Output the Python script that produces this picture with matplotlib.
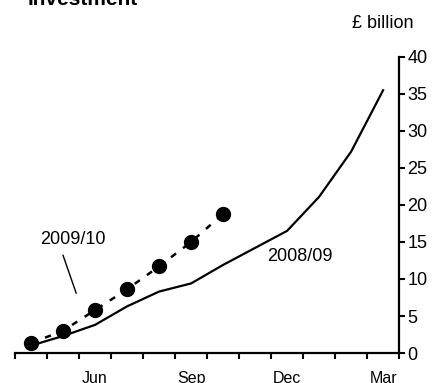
import matplotlib
matplotlib.use("Agg")
import matplotlib.pyplot as plt
import numpy as np

plt.rcParams['font.family'] = ['Liberation Sans', 'DejaVu Sans']

months = ["Apr", "May", "Jun", "Jul", "Aug", "Sep", "Oct", "Nov", "Dec", "Jan", "Feb", "Mar"]
shown_months = ["Jun", "Sep", "Dec", "Mar"]
y0809 = [1.0, 2.3, 3.8, 6.3, 8.3, 9.4, 11.9, 14.2, 16.5, 21.1, 27.2, 35.5]
y0910 = [1.35, 3.0, 5.8, 8.6, 11.7, 15.0, 18.8]

fig = plt.figure(figsize=(4.34, 3.83), dpi=100)
ax = fig.add_axes([0.0346, 0.0783, 0.885, 0.773])

x = np.arange(len(months)) + 0.5
ax.plot(x, y0809, color="black", lw=1.6)
ax.plot(x[:len(y0910)], y0910, color="black", lw=1.8, ls=(0, (2.5, 3.5)),
        marker="o", ms=10, mfc="black", mec="black")

ax.set_xlim(0, 12)
ax.set_ylim(0, 40)

for s in ["top", "left"]:
    ax.spines[s].set_visible(False)
ax.spines["bottom"].set_linewidth(1.6)
ax.spines["right"].set_linewidth(1.6)

# month boundaries as ticks, labels centred on months
ax.set_xticks(np.arange(0, 13), minor=True)
ax.set_xticks([x[months.index(m)] for m in shown_months])
ax.set_xticklabels(shown_months, fontsize=11.5)
ax.tick_params(axis="x", which="major", length=0, pad=13)
ax.tick_params(axis="x", which="minor", length=4.5, width=1.5, direction="out")

ax.yaxis.tick_right()
ax.set_yticks(np.arange(0, 41, 5))
ax.tick_params(axis="y", length=4, width=1.5, direction="out", labelsize=13, pad=2)

ax.text(1.8, 15.3, "2009/10", fontsize=13, ha="center", va="center")
ax.text(8.89, 13.0, "2008/09", fontsize=13, ha="center", va="center")
ax.plot([1.5, 1.91], [13.2, 8.1], color="black", lw=1.0)

fig.text(383 / 434, 1 - 23 / 383, "£ billion", fontsize=13, ha="center", va="center")
fig.text(28 / 434, 1 - 5 / 383, "Investment", fontsize=15, fontweight="bold",
         ha="left", va="baseline")

fig.savefig("out.png", dpi=100)
